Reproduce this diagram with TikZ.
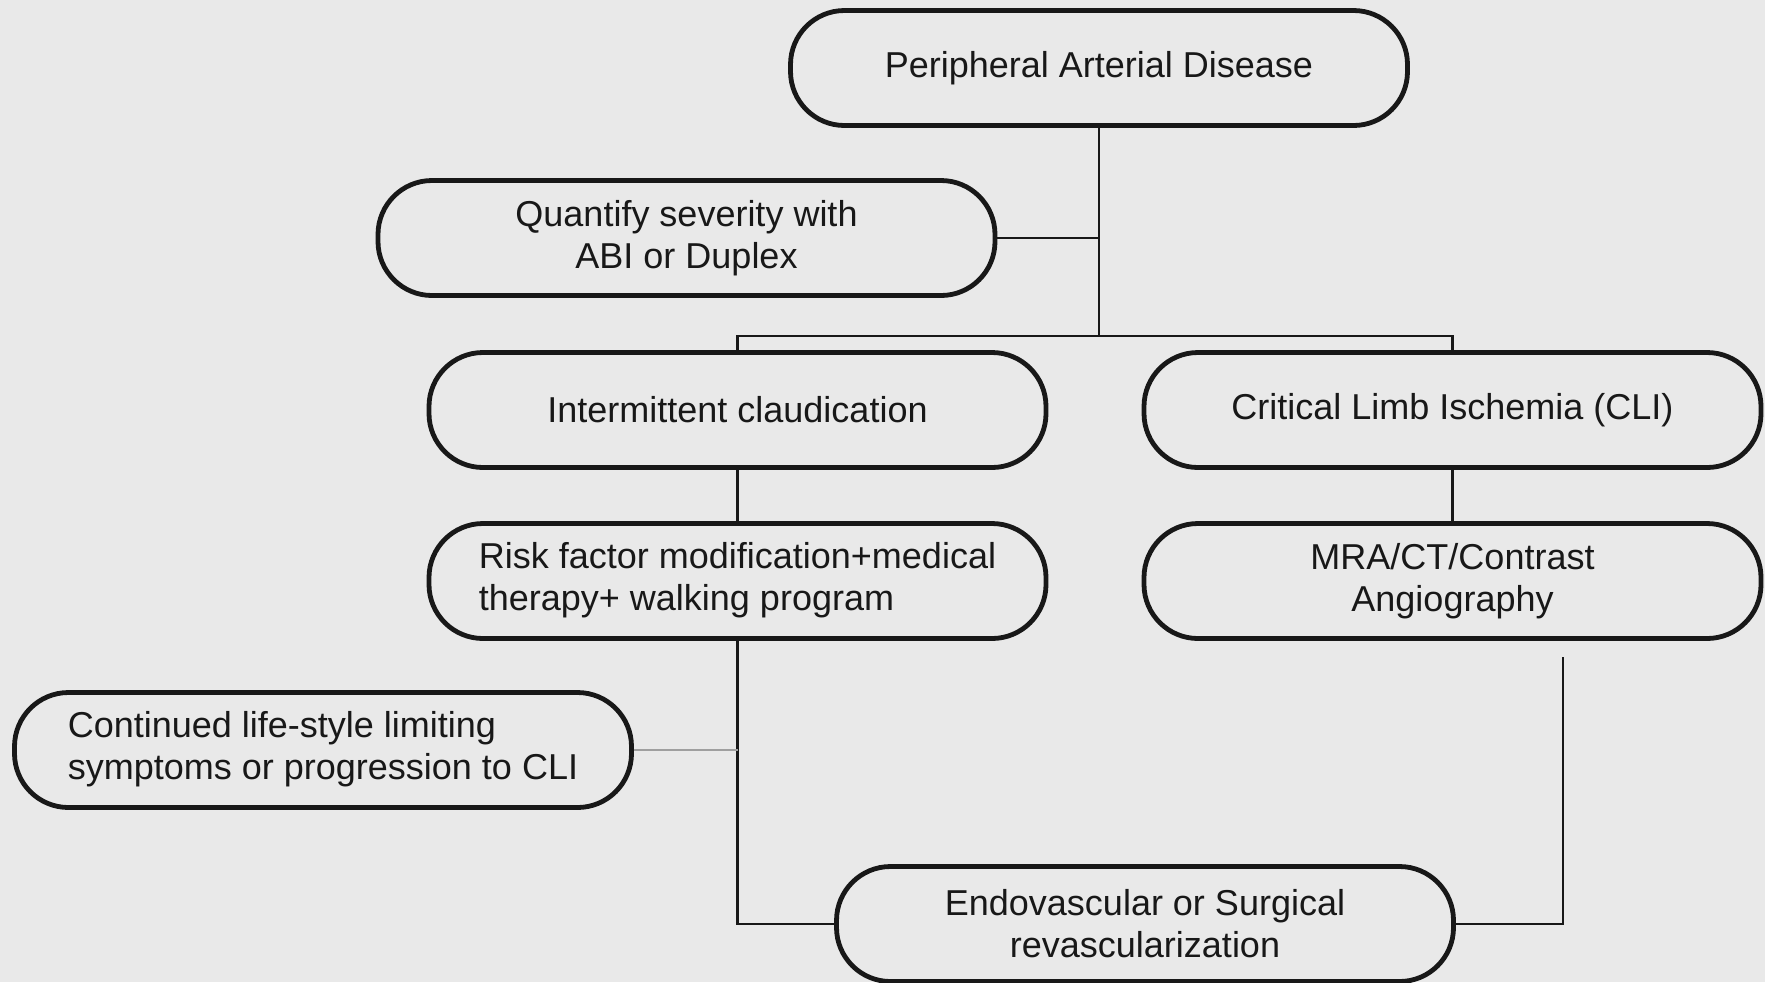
\documentclass[tikz,border=0pt]{standalone}
\usepackage{fontspec}
\setmainfont{Liberation Sans}
\usepackage{tikz}
\definecolor{paper}{RGB}{233,233,233}
\definecolor{ink}{RGB}{24,24,24}
\tikzset{
  pill/.style={draw=ink, line width=2.4pt, rounded corners=27pt,
    minimum width=308.5pt, minimum height=57.5pt, inner sep=2pt,
    align=center, text=ink, font=\fontsize{18}{21}\selectfont},
  link/.style={draw=ink, line width=1.1pt},
  thinlink/.style={draw=gray!75, line width=0.6pt}
}

\begin{document}
\begin{tikzpicture}[x=0.5pt, y=-0.5pt]
  \fill[paper] (0,0) rectangle (1765,982);
  \useasboundingbox (0,0) rectangle (1765,982);

  % boxes
  \node[pill] (pad) at (1099,68) {Peripheral Arterial Disease};
  \node[pill] (quant) at (686.5,238) {Quantify severity with\\ABI or Duplex};
  \node[pill] (claud) at (737.5,410) {Intermittent claudication};
  \node[pill] (cli) at (1452.5,410) {Critical Limb Ischemia (CLI)};
  \node[pill] (risk) at (737.5,581) {\begin{tabular}{@{}l@{}}Risk factor modification+medical\\therapy+ walking program\end{tabular}};
  \node[pill] (mra) at (1452.5,581) {MRA/CT/Contrast\\Angiography};
  \node[pill] (cont) at (323,750) {\begin{tabular}{@{}l@{}}Continued life-style limiting\\symptoms or progression to CLI\end{tabular}};
  \node[pill] (endo) at (1145,924) {Endovascular or Surgical\\revascularization};

  % junctions
  \coordinate (fork) at (1099,336);
  \coordinate (mrafoot) at (1563,657);

  % connectors
  \draw[link] (pad.south) -- (fork);
  \draw[link] (quant.east) -- (quant.east -| fork);
  \draw[link] (claud.north) |- (fork) -| (cli.north);
  \draw[link] (claud.south) -- (risk.north);
  \draw[link] (cli.south) -- (mra.north);
  \draw[link] (risk.south) |- (endo.west);
  \draw[thinlink] (cont.east) -- (cont.east -| risk.south);
  \draw[link] (mrafoot) |- (endo.east);
\end{tikzpicture}
\end{document}
